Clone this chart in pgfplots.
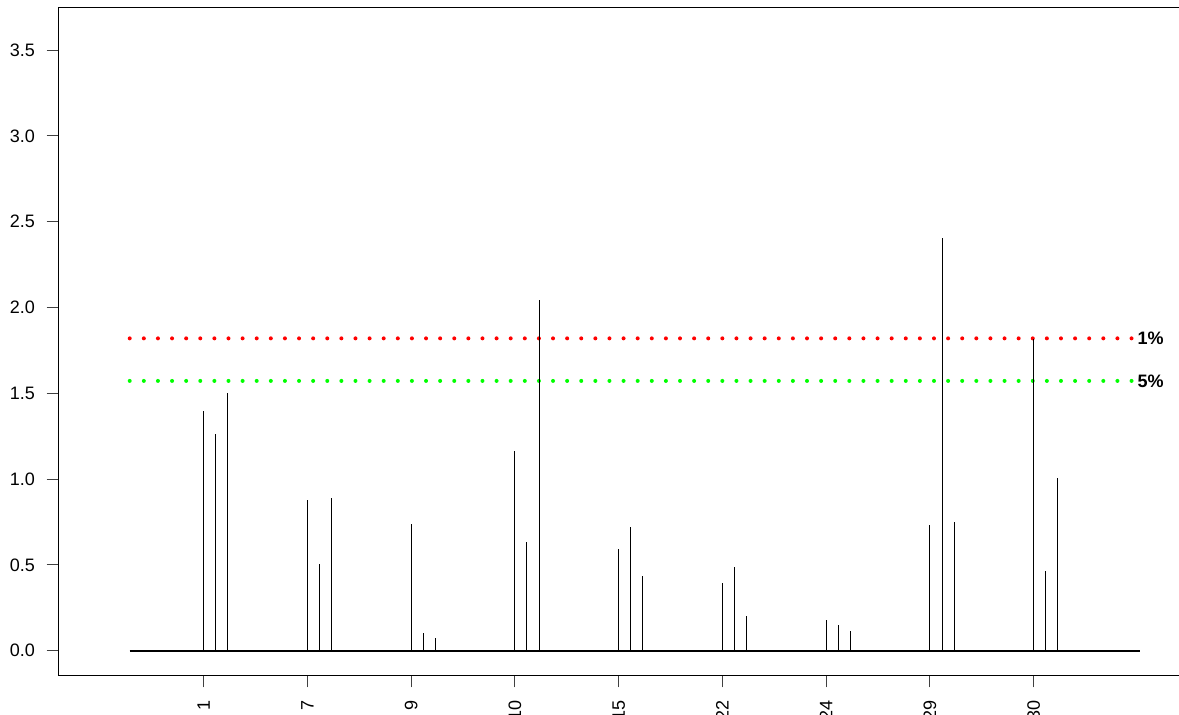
\documentclass[border=0pt]{standalone}
\usepackage{fontspec}
\setmainfont{Liberation Sans}
\usepackage{pgfplots}
\pgfplotsset{compat=1.18}

\definecolor{sigred}{RGB}{255,0,0}
\definecolor{siggreen}{RGB}{0,255,0}

% spike positions: marker group k sits at x = k, with two further markers at +0.116 and +0.232
\begin{document}
\begin{tikzpicture}
\begin{axis}[
  scale only axis,
  width=1122.7bp, height=668.2bp,
  xmin=-1.4014, xmax=9.4197,
  ymin=-0.1457, ymax=3.748,
  axis line style={black, line width=1bp},
  xtick={0,1,2,3,4,5,6,7,8},
  xticklabels={1,7,9,10,15,22,24,29,30},
  ytick={0,0.5,1,1.5,2,2.5,3,3.5},
  xtick pos=left, ytick pos=left,
  tick align=outside,
  major tick length=11.6bp,
  tick style={black!75, line width=1bp},
  /pgf/number format/assume math mode=true,
  yticklabel={\pgfmathprintnumber[fixed,fixed zerofill,precision=1]{\tick}},
  ticklabel style={font=\fontsize{18bp}{21bp}\selectfont},
  yticklabel style={anchor=east, inner sep=0pt, xshift=-11.7bp},
  xticklabel style={rotate=90, anchor=east, inner sep=0pt, xshift=-13bp},
  clip=false,
]
% baseline
\addplot[black, line width=2bp] coordinates {(-0.713,0) (9.02,0)};

% significance thresholds
\addplot[sigred, line width=4bp, line cap=round, dash pattern=on 0pt off 14.11bp]
  coordinates {(-0.713,1.82) (8.954,1.82)};
\addplot[siggreen, line width=4bp, line cap=round, dash pattern=on 0pt off 14.11bp]
  coordinates {(-0.713,1.572) (8.954,1.572)};

% LOD spikes
\addplot[ycomb, black, line width=1bp, mark=none] coordinates {
  (0,1.399) (0.116,1.261) (0.232,1.500)
  (1,0.876) (1.116,0.503) (1.232,0.888)
  (2,0.740) (2.116,0.101) (2.232,0.072)
  (3,1.166) (3.116,0.632) (3.232,2.044)
  (4,0.593) (4.116,0.719) (4.232,0.434)
  (5,0.395) (5.116,0.486) (5.232,0.202)
  (6,0.177) (6.116,0.148) (6.232,0.115)
  (7,0.734) (7.116,2.405) (7.232,0.748)
  (8,1.815) (8.116,0.464) (8.232,1.008)
};

\node[anchor=west, inner sep=0pt, font=\fontsize{18bp}{21bp}\selectfont\bfseries]
  at (axis cs:9.0,1.82) {1\%};
\node[anchor=west, inner sep=0pt, font=\fontsize{18bp}{21bp}\selectfont\bfseries]
  at (axis cs:9.0,1.572) {5\%};
\end{axis}
\pgfresetboundingbox
\path[use as bounding box]
  ([shift={(-58.3bp,-39.3bp)}]current axis.south west)
  rectangle ([shift={(-2bp,7.5bp)}]current axis.north east);
\end{tikzpicture}
\end{document}
